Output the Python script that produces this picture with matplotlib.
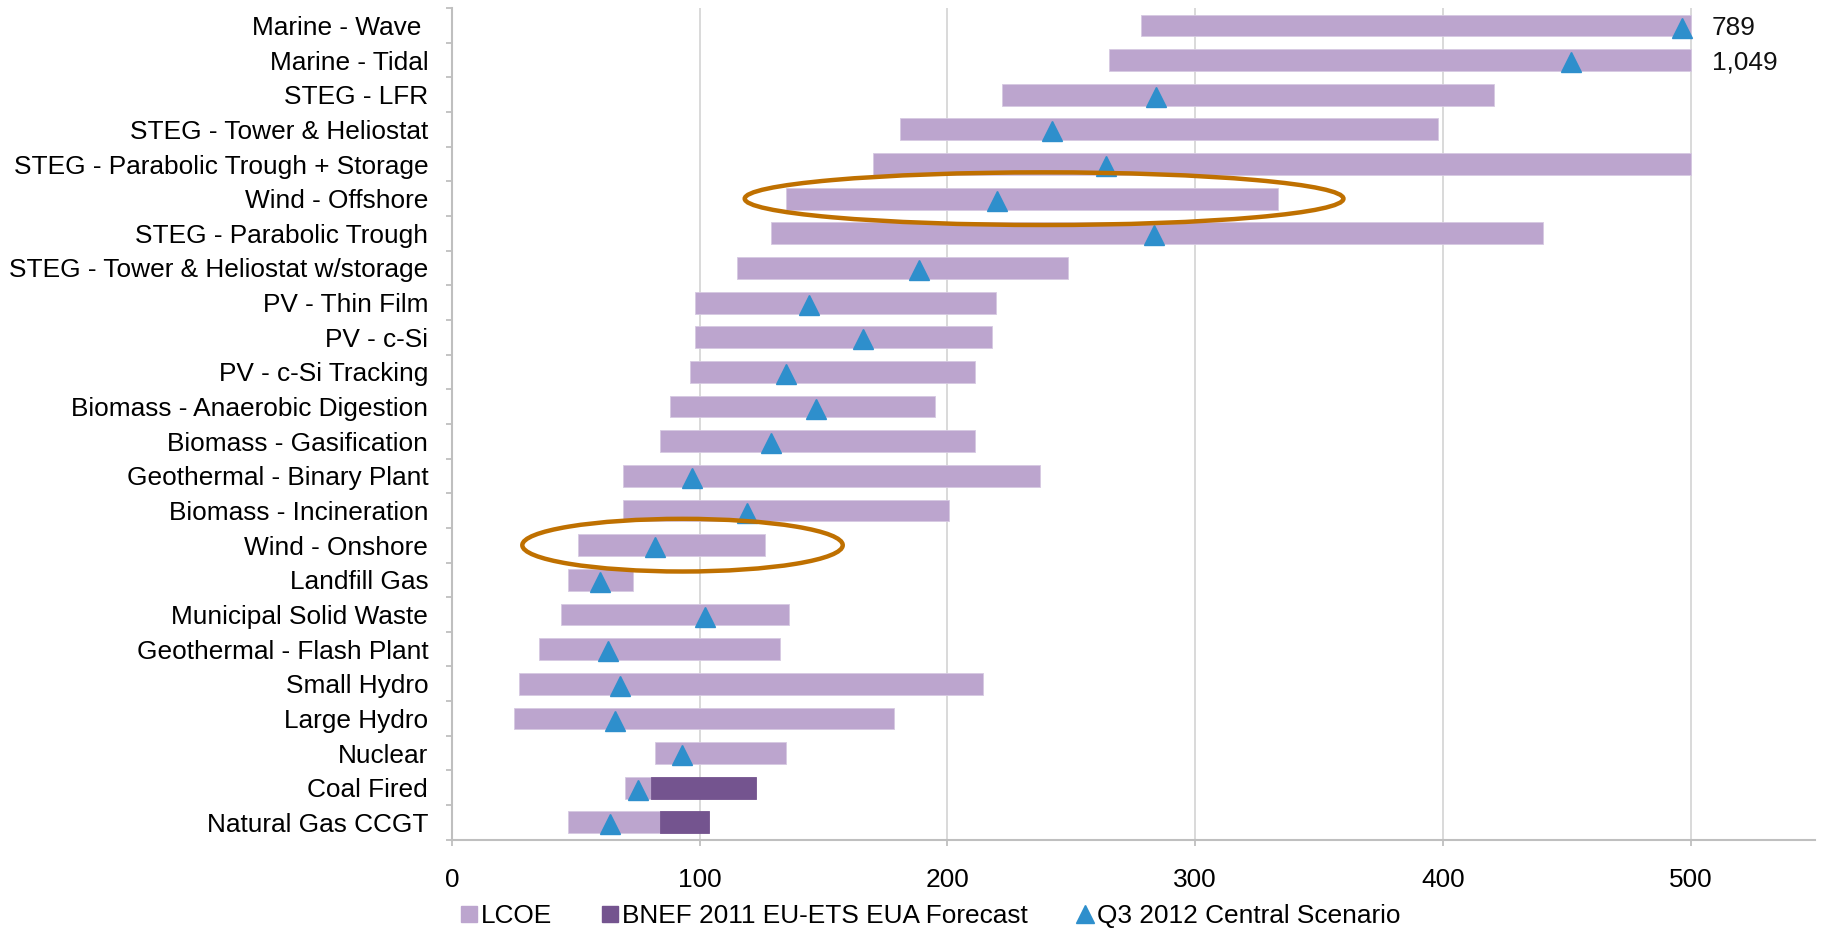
import numpy as np
import matplotlib
matplotlib.use("Agg")
import matplotlib.pyplot as plt
from matplotlib.patches import Ellipse
from matplotlib.lines import Line2D

plt.rcParams['font.family'] = ['Liberation Sans', 'DejaVu Sans']

# ---------------- data (top to bottom) ----------------
categories = ["Marine - Wave ", "Marine - Tidal", "STEG - LFR", "STEG - Tower & Heliostat",
              "STEG - Parabolic Trough + Storage", "Wind - Offshore", "STEG - Parabolic Trough",
              "STEG - Tower & Heliostat w/storage", "PV - Thin Film", "PV - c-Si",
              "PV - c-Si Tracking", "Biomass - Anaerobic Digestion", "Biomass - Gasification",
              "Geothermal - Binary Plant", "Biomass - Incineration", "Wind - Onshore",
              "Landfill Gas", "Municipal Solid Waste", "Geothermal - Flash Plant",
              "Small Hydro", "Large Hydro", "Nuclear", "Coal Fired", "Natural Gas CCGT"]
lcoe_low = [278, 265, 222, 181, 170, 135, 129, 115, 98, 98, 96, 88, 84, 69, 69,
            51, 47, 44, 35, 27, 25, 82, 70, 47]
lcoe_high = [789, 1049, 420.5, 398, 500, 333.5, 440.5, 248.5, 219.5, 218, 211, 195, 211, 237.5, 200.5,
             126.5, 73, 136, 132.5, 214.5, 178.5, 135, 80.5, 84]
bnef_high = [np.nan] * 22 + [122.6, 103.7]
central = [496.5, 451.5, 284, 242, 264, 220, 283.5, 188.5, 144, 166, 135, 147, 129, 97, 119,
           82, 60, 102, 63, 68, 66, 93, 75, 64]
x_ticks = [0, 100, 200, 300, 400, 500]
x_cap = 500
highlighted = ["Wind - Offshore", "Wind - Onshore"]

# ---------------- styling ----------------
C_LCOE = '#BCA5CE'
C_BNEF = '#74548F'
C_TRI = '#2E8FCC'
C_ELL = '#BF7000'
C_GRID = '#D0D0D0'
C_SPINE = '#BFBFBF'
FS = 18.9

fig = plt.figure(figsize=(18.21, 9.30), dpi=100)
ax = fig.add_axes([451.8 / 1821, 1 - 839.7 / 930, 1363 / 1821, (839.7 - 8.1) / 930])

n = len(categories)
y = np.arange(n)
bar_h = 0.63

lo = np.array(lcoe_low, float)
hi = np.minimum(np.array(lcoe_high, float), x_cap)
ax.barh(y, hi - lo, left=lo, height=bar_h, color=C_LCOE, edgecolor='#D6C9E2',
        linewidth=0.6, zorder=2)
bh = np.array(bnef_high, float)
mask = ~np.isnan(bh)
ax.barh(y[mask], bh[mask] - hi[mask], left=hi[mask], height=bar_h, color=C_BNEF,
        edgecolor=C_BNEF, linewidth=0.6, zorder=2)
ax.plot(central, y + 0.06, linestyle='none', marker='^', markersize=14.5,
        color=C_TRI, zorder=3)

# labels for values beyond the axis cap
for yi, v in zip(y, lcoe_high):
    if v > x_cap:
        ax.text(508.5, yi + 0.08, f"{v:,.0f}", ha='left', va='center', fontsize=FS,
                color='#111111')

# highlight ellipses
ell_specs = {"Wind - Offshore": (239, 241.6), "Wind - Onshore": (93.1, 129.3)}
for name in highlighted:
    cx, w = ell_specs[name]
    yi = categories.index(name)
    ax.add_patch(Ellipse((cx, yi), w, 1.52, fill=False, edgecolor=C_ELL,
                         linewidth=3.2, zorder=4, clip_on=False))

ax.set_xlim(0, 550)
ax.set_ylim(n - 0.5, -0.5)
ax.set_xticks(x_ticks)
ax.set_xticklabels([str(t) for t in x_ticks], fontsize=FS)
ax.set_yticks(y)
ax.set_yticklabels(categories, fontsize=FS)
ax.set_yticks(np.arange(n + 1) - 0.5, minor=True)

ax.tick_params(axis='y', which='major', length=0, pad=17)
ax.tick_params(axis='y', which='minor', length=4.5, width=1.3, color=C_SPINE, direction='out')
ax.tick_params(axis='x', which='major', length=4.5, width=1.3, color=C_SPINE, pad=16)
ax.grid(axis='x', color=C_GRID, linewidth=1.1, zorder=0)
ax.set_axisbelow(True)
for s in ['top', 'right']:
    ax.spines[s].set_visible(False)
for s in ['left', 'bottom']:
    ax.spines[s].set_color(C_SPINE)
    ax.spines[s].set_linewidth(1.5)

handles = [
    Line2D([], [], linestyle='none', marker='s', markersize=11, color=C_LCOE),
    Line2D([], [], linestyle='none', marker='s', markersize=11, color=C_BNEF),
    Line2D([], [], linestyle='none', marker='^', markersize=13, color=C_TRI),
]
labels = ["LCOE", "BNEF 2011 EU-ETS EUA Forecast", "Q3 2012 Central Scenario"]
fig.legend(handles, labels, loc='center left', bbox_to_anchor=(460 / 1821, 1 - 916 / 930),
           ncol=3, frameon=False, fontsize=FS, handlelength=0.7, handletextpad=0.1,
           columnspacing=1.85, borderpad=0, borderaxespad=0)

fig.savefig('out.png', dpi=100)
